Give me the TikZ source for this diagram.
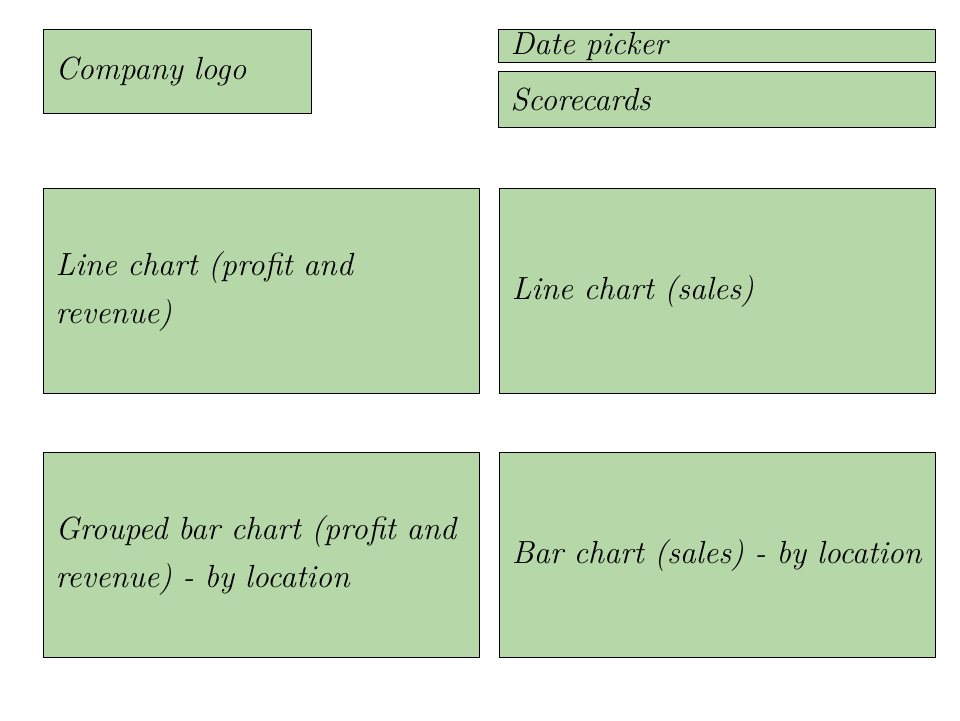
\documentclass[tikz,border=0pt]{standalone}
\usepackage{tikz}
\definecolor{panelgreen}{RGB}{182, 215, 168}
\usetikzlibrary{positioning}

\begin{document}
\begin{tikzpicture}[x=0.5pt, y=-0.5pt,
    panel/.style={draw=black, line width=0.6pt, fill=panelgreen, rectangle,
          anchor=north west, inner xsep=6pt, inner ysep=0pt, align=left,
          font=\fontsize{16}{24}\selectfont\itshape},
    widepanel/.style={panel, text width=206pt, minimum height=102.5pt}]
    \useasboundingbox (0,0) rectangle (960,720);
    % top row
    \node[panel, text width=122pt, minimum height=42pt] (logo) at (43,29) {Company logo};
    \node[panel, text width=206.5pt, minimum height=16.5pt] (datepicker) at (498,29) {Date picker};
    \node[panel, text width=206.5pt, minimum height=28pt, below=4pt of datepicker.south west, anchor=north west] (scorecards) {Scorecards};
    % charts
    \node[widepanel] (lineprofit) at (43,188) {Line chart (profit and\\revenue)};
    \node[widepanel, right=9.5pt of lineprofit.north east, anchor=north west] (linesales) {Line chart (sales)};
    \node[widepanel, below=29pt of lineprofit.south west, anchor=north west] (groupedbar) {Grouped bar chart (profit and\\revenue) - by location};
    \node[widepanel, right=9.5pt of groupedbar.north east, anchor=north west] (barsales) {Bar chart (sales) - by location};
\end{tikzpicture}
\end{document}
